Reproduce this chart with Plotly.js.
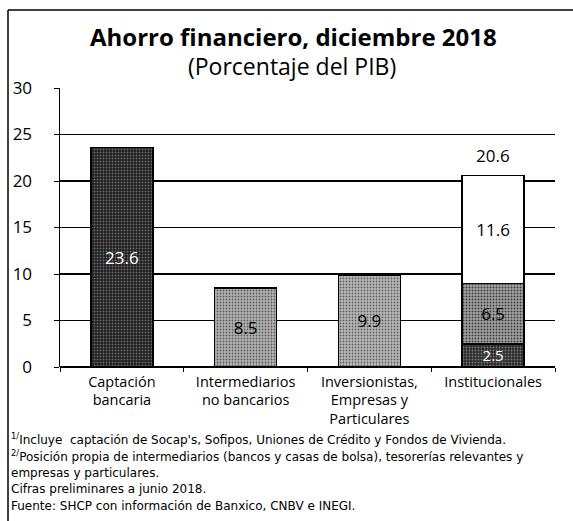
<!DOCTYPE html>
<html><head><meta charset="utf-8">
<script src="https://cdn.plot.ly/plotly-3.0.1.min.js"></script>
<style>body{margin:0;background:#fff}#c{width:573px;height:521px}</style>
</head><body><div id="c"></div>
<script>
const categories = ["Captación<br>bancaria", "Intermediarios<br>no bancarios", "Inversionistas,<br>Empresas y<br>Particulares", "Institucionales"];
const captacion = [23.6, null, null, null];
const intermediarios = [null, 8.5, null, null];
const inversionistas = [null, null, 9.9, null];
const instValues1 = [null, null, null, 2.5];
const instValues2 = [null, null, null, 6.5];
const instValues3 = [null, null, null, 11.6];
const instTotal = 20.6;
const yTicks = [0, 5, 10, 15, 20, 25, 30];
const footnotes = [
  "<sup>1/</sup>Incluye  captación de Socap's, Sofipos, Uniones de Crédito y Fondos de Vivienda.",
  "<sup>2/</sup>Posición propia de intermediarios (bancos y casas de bolsa), tesorerías relevantes y",
  "empresas y particulares.",
  "Cifras preliminares a junio 2018.",
  "Fuente: SHCP con información de Banxico, CNBV e INEGI."
];

const W = 573, H = 521, L = 60, R = 18, T = 88, B = 154;
const pw = W - L - R, ph = H - T - B;
const px = x => (x - L) / pw;
const py = y => (H - B - y) / ph;
const FONT = "Open Sans";

const line = {color: "#000", width: 1.5};
function barTrace(vals, bg, fg, sol, txtColor, txtSize) {
  const m = {color: bg, line};
  if (fg) m.pattern = {shape: ".", bgcolor: bg, fgcolor: fg, size: 3, solidity: sol};
  const idx = vals.map((v, i) => i).filter(i => vals[i] != null);
  return {type: "bar", x: idx.map(i => categories[i]), y: idx.map(i => vals[i]),
    text: idx.map(i => vals[i].toFixed(1)),
    textposition: "inside", insidetextanchor: "middle", constraintext: "none",
    textfont: {family: FONT, size: txtSize, color: txtColor}, marker: m, hoverinfo: "none"};
}
const traces = [
  barTrace(captacion, "#1e1e1e", "#6a6a6a", 0.3, "#fff", 17),
  barTrace(intermediarios, "#b4b4b4", "#5a5a5a", 0.3, "#000", 17),
  barTrace(inversionistas, "#bababa", "#5e5e5e", 0.3, "#000", 17),
  barTrace(instValues1, "#2a2a2a", "#777", 0.3, "#fff", 15),
  barTrace(instValues2, "#a6a6a6", "#3a3a3a", 0.35, "#000", 17),
  barTrace(instValues3, "#fff", null, 0, "#000", 17)
];

const annotations = [
  {text: "<b>Ahorro financiero, diciembre 2018</b>", xref: "paper", yref: "paper", x: px(293), y: py(37),
   xanchor: "center", yanchor: "middle", showarrow: false, font: {family: FONT, size: 24, color: "#000"}},
  {text: "(Porcentaje del PIB)", xref: "paper", yref: "paper", x: px(292), y: py(66),
   xanchor: "center", yanchor: "middle", showarrow: false, font: {family: FONT, size: 23, color: "#000"}},
  {text: instTotal.toFixed(1), x: categories[3], y: instTotal, yref: "y", xref: "x",
   yanchor: "bottom", yshift: 6, showarrow: false, font: {family: FONT, size: 17, color: "#000"}}
];
const fnY = [439, 456, 473, 489, 506];
footnotes.forEach((t, i) => annotations.push({
  text: t, xref: "paper", yref: "paper", x: px(9), y: py(fnY[i]), xanchor: "left", yanchor: "middle",
  showarrow: false, font: {family: "DejaVu Sans", size: 12, color: "#000"}
}));

const layout = {
  width: W, height: H, margin: {l: L, r: R, t: T, b: B},
  paper_bgcolor: "#fff", plot_bgcolor: "#fff",
  barmode: "stack", bargap: 0.5, showlegend: false,
  font: {family: FONT, color: "#000"},
  xaxis: {type: "category", categoryorder: "array", categoryarray: categories,
    tickson: "boundaries", ticks: "outside", ticklen: 4, tickcolor: "#000",
    showline: false, showgrid: false, ticklabelstandoff: 4,
    tickfont: {family: FONT, size: 14.5, color: "#000"}, fixedrange: true},
  yaxis: {range: [0, 30], tickvals: yTicks, ticks: "outside", ticklen: 5, tickcolor: "#000",
    showline: true, linecolor: "#000", linewidth: 1.5, showgrid: true, gridcolor: "#000", gridwidth: 1.3,
    zeroline: true, zerolinecolor: "#000", zerolinewidth: 2, ticklabelstandoff: 18,
    tickfont: {family: FONT, size: 17, color: "#000"}, fixedrange: true},
  annotations,
  shapes: [
    {type: "line", xref: "paper", yref: "paper", x0: px(8), x1: px(8), y0: py(10), y1: py(521), line: {color: "#000", width: 1.5}},
    {type: "line", xref: "paper", yref: "paper", x0: px(8), x1: px(573), y0: py(10), y1: py(10), line: {color: "#000", width: 1.5}}
  ]
};
Plotly.newPlot("c", traces, layout, {staticPlot: true, displayModeBar: false});
</script></body></html>
